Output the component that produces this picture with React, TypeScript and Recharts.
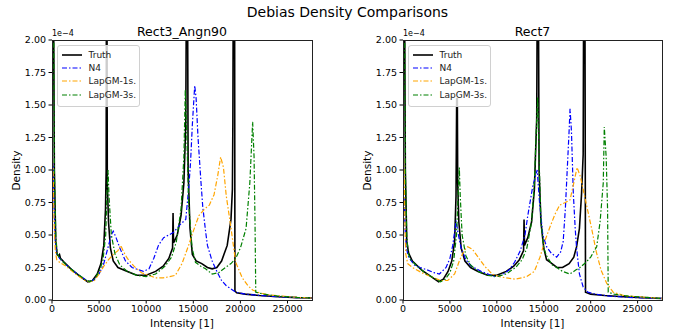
import { LineChart, Line, XAxis, YAxis } from 'recharts'

document.body.style.margin = '0'

type Pt = [number, number]

const xTicks = [0, 5000, 10000, 15000, 20000, 25000]
const yTicks = [0, 0.25, 0.5, 0.75, 1, 1.25, 1.5, 1.75, 2]
const xMax = 27600

const seriesNames = ['Truth', 'N4', 'LapGM-1s.', 'LapGM-3s.']
const seriesColors = ['#000000', '#0000ff', '#ffa500', '#008000']

// density values in units of 1e-4, [intensity, density]
const leftTruth: Pt[] = [
  [0, 0], [40, 2.6], [150, 2.6], [250, 1.0], [400, 0.45], [550, 0.35], [700, 0.34], [800, 0.35], [900, 0.32],
  [1300, 0.29], [2000, 0.24], [3000, 0.18], [3800, 0.14], [4300, 0.15], [4800, 0.2], [5200, 0.28], [5500, 0.42],
  [5680, 0.7], [5750, 1.0], [5780, 2.6], [5830, 2.6], [5870, 0.9], [6000, 0.6], [6200, 0.4], [6500, 0.3],
  [7000, 0.25], [8000, 0.22], [9000, 0.19], [10000, 0.19], [11000, 0.22], [11800, 0.26], [12400, 0.32],
  [12800, 0.4], [12850, 0.67], [12900, 0.44], [13300, 0.5], [13700, 0.65], [14000, 0.9], [14200, 1.35],
  [14280, 2.6], [14380, 2.6], [14450, 1.0], [14650, 0.55], [14900, 0.35], [15300, 0.3], [15900, 0.28],
  [16500, 0.25], [17000, 0.24], [17500, 0.25], [18000, 0.3], [18600, 0.42], [19000, 0.62], [19150, 0.85],
  [19200, 1.37], [19250, 2.6], [19380, 2.6], [19420, 0.07], [19600, 0.055], [20500, 0.045], [22000, 0.035],
  [24000, 0.025], [26000, 0.018], [27600, 0.015],
]
const leftN4: Pt[] = [
  [0, 0], [30, 1.05], [120, 1.05], [220, 0.7], [350, 0.45], [500, 0.36], [800, 0.32], [1500, 0.27], [2500, 0.21],
  [3500, 0.16], [4000, 0.14], [4500, 0.16], [5000, 0.2], [5500, 0.28], [6000, 0.42], [6300, 0.5], [6500, 0.53],
  [6800, 0.48], [7200, 0.4], [7800, 0.3], [8500, 0.25], [9700, 0.22], [10300, 0.24], [10800, 0.32], [11300, 0.42],
  [11850, 0.48], [12400, 0.5], [12900, 0.52], [13600, 0.58], [14200, 0.62], [14500, 0.85], [14700, 1.05],
  [14900, 1.35], [15150, 1.65], [15300, 1.55], [15500, 1.25], [15800, 0.92], [16000, 0.72], [16300, 0.53],
  [16500, 0.42], [17000, 0.3], [17500, 0.22], [18000, 0.15], [18500, 0.11], [19500, 0.06], [20500, 0.045],
  [22000, 0.035], [24000, 0.025], [26000, 0.018], [27600, 0.015],
]
const leftLap1: Pt[] = [
  [0, 0], [30, 1.1], [120, 1.0], [220, 0.6], [350, 0.38], [500, 0.31], [800, 0.29], [1500, 0.26], [2500, 0.2],
  [3500, 0.15], [4000, 0.14], [4500, 0.15], [5000, 0.2], [5500, 0.26], [6000, 0.31], [6500, 0.35], [7000, 0.38],
  [7300, 0.42], [7600, 0.37], [8000, 0.32], [8700, 0.26], [9500, 0.21], [10300, 0.19], [11000, 0.17],
  [11800, 0.17], [12500, 0.18], [13100, 0.19], [13800, 0.28], [14500, 0.42], [15000, 0.53], [15600, 0.65],
  [16200, 0.7], [16700, 0.73], [17200, 0.81], [17600, 0.96], [17900, 1.1], [18200, 1.02], [18500, 0.8],
  [18950, 0.58], [19500, 0.29], [20200, 0.17], [20800, 0.11], [21300, 0.077], [22000, 0.055], [23000, 0.04],
  [24500, 0.03], [26000, 0.02], [27600, 0.015],
]
const leftLap3: Pt[] = [
  [0, 0], [30, 2.6], [150, 2.6], [250, 1.0], [400, 0.5], [550, 0.36], [800, 0.32], [1500, 0.27], [2500, 0.21],
  [3500, 0.16], [4000, 0.14], [4500, 0.16], [5000, 0.22], [5400, 0.3], [5700, 0.5], [5850, 0.85], [5950, 1.0],
  [6050, 0.8], [6300, 0.5], [6700, 0.35], [7200, 0.27], [8000, 0.22], [9000, 0.19], [10000, 0.18], [11000, 0.2],
  [12000, 0.26], [12700, 0.33], [13200, 0.45], [13700, 0.7], [14000, 1.1], [14150, 1.62], [14300, 1.3],
  [14500, 0.75], [14870, 0.4], [15230, 0.29], [15800, 0.26], [16300, 0.24], [17000, 0.2], [17700, 0.21],
  [18400, 0.25], [19000, 0.28], [19500, 0.32], [20000, 0.4], [20600, 0.55], [21000, 0.9], [21300, 1.37],
  [21450, 1.1], [21550, 0.6], [21630, 0.06], [22500, 0.045], [24000, 0.03], [26000, 0.02], [27600, 0.015],
]

const rightTruth: Pt[] = [
  [0, 0], [40, 2.6], [150, 2.6], [250, 1.0], [400, 0.45], [600, 0.36], [1000, 0.3], [2000, 0.23], [3000, 0.18],
  [3800, 0.14], [4300, 0.16], [4800, 0.22], [5200, 0.3], [5500, 0.45], [5650, 0.8], [5720, 1.55], [5790, 1.55],
  [5830, 0.9], [5950, 0.6], [6200, 0.4], [6600, 0.3], [7200, 0.25], [8000, 0.22], [9000, 0.19], [10000, 0.19],
  [11000, 0.22], [11800, 0.26], [12400, 0.31], [12850, 0.38], [12900, 0.62], [12950, 0.42], [13300, 0.48],
  [13700, 0.6], [14000, 0.85], [14250, 1.4], [14320, 2.6], [14420, 2.6], [14500, 1.0], [14700, 0.6],
  [15000, 0.4], [15300, 0.31], [15700, 0.29], [16400, 0.25], [17000, 0.25], [17700, 0.28], [18200, 0.33],
  [18500, 0.41], [18800, 0.55], [19030, 0.82], [19200, 1.12], [19260, 2.6], [19380, 2.6], [19450, 0.06],
  [20000, 0.045], [21500, 0.035], [23500, 0.025], [25500, 0.018], [27600, 0.012],
]
const rightN4: Pt[] = [
  [0, 0], [30, 0.8], [120, 0.78], [220, 0.55], [350, 0.4], [600, 0.33], [1210, 0.27], [1800, 0.25], [2640, 0.23],
  [3300, 0.21], [3880, 0.2], [4590, 0.25], [5000, 0.32], [5300, 0.42], [5660, 0.61], [5850, 0.52], [6190, 0.4],
  [6700, 0.31], [7300, 0.26], [8320, 0.22], [9750, 0.18], [10500, 0.19], [11300, 0.23], [11890, 0.29],
  [12500, 0.38], [13000, 0.5], [13300, 0.65], [13840, 0.88], [14300, 1.0], [14550, 0.75], [14900, 0.5],
  [15300, 0.41], [15800, 0.36], [16370, 0.33], [16800, 0.37], [17070, 0.45], [17300, 0.7], [17500, 1.0],
  [17700, 1.3], [17800, 1.47], [17950, 1.3], [18150, 0.82], [18350, 0.55], [18500, 0.4], [18800, 0.2],
  [19200, 0.1], [19700, 0.06], [20500, 0.045], [22000, 0.03], [24000, 0.02], [27600, 0.012],
]
const rightLap1: Pt[] = [
  [0, 0], [30, 1.15], [120, 1.0], [200, 0.6], [300, 0.35], [500, 0.28], [1000, 0.25], [2000, 0.21], [3000, 0.18],
  [4000, 0.15], [4770, 0.15], [5500, 0.2], [6000, 0.3], [6500, 0.38], [6900, 0.41], [7400, 0.39], [8000, 0.33],
  [8700, 0.26], [9500, 0.2], [10300, 0.18], [11000, 0.17], [12000, 0.16], [13170, 0.18], [14000, 0.22],
  [14600, 0.33], [15100, 0.45], [15650, 0.56], [16200, 0.66], [16700, 0.73], [17300, 0.75], [17800, 0.77],
  [18200, 0.9], [18550, 1.02], [18900, 0.95], [19500, 0.75], [20100, 0.55], [20600, 0.37], [21100, 0.23],
  [21700, 0.13], [22400, 0.06], [23500, 0.035], [25000, 0.025], [27600, 0.012],
]
const rightLap3: Pt[] = [
  [0, 0], [30, 2.6], [150, 2.6], [250, 1.0], [400, 0.5], [550, 0.36], [800, 0.31], [1500, 0.26], [2500, 0.2],
  [3500, 0.16], [4000, 0.14], [4500, 0.16], [5000, 0.21], [5400, 0.3], [5700, 0.5], [5870, 0.8], [6000, 1.02],
  [6100, 0.8], [6300, 0.5], [6700, 0.34], [7200, 0.27], [8000, 0.22], [9000, 0.19], [10000, 0.18], [11000, 0.2],
  [12000, 0.25], [12700, 0.31], [13200, 0.4], [13700, 0.6], [14000, 0.9], [14200, 1.3], [14350, 1.56],
  [14500, 1.1], [14700, 0.6], [15000, 0.4], [15300, 0.34], [15900, 0.27], [16400, 0.25], [17000, 0.22],
  [17790, 0.2], [18400, 0.23], [18860, 0.25], [19500, 0.29], [20000, 0.33], [20640, 0.41], [21000, 0.6],
  [21340, 0.9], [21450, 1.33], [21650, 1.1], [21800, 0.7], [21870, 0.06], [22500, 0.045], [24000, 0.03],
  [26000, 0.02], [27600, 0.012],
]

const FONT = '"DejaVu Sans", sans-serif'
const DASH = '5 2 1.5 2'

type PanelProps = {
  title: string
  x: number
  yWidth: number
  right: number
  series: Pt[][]
}

function Panel({ title, x, yWidth, right, series }: PanelProps) {
  const plotLeft = x + yWidth
  const plotWidth = 341 - yWidth - right
  const center = plotLeft + plotWidth / 2
  return (
    <>
      <div style={{ position: 'absolute', left: x, top: 0 }}>
        <LineChart width={341} height={335} margin={{ top: 40, right, bottom: 0, left: 0 }}>
          <XAxis
            type="number"
            dataKey="x"
            domain={[0, xMax]}
            ticks={xTicks}
            allowDataOverflow
            height={35}
            axisLine={false}
            tickSize={3.5}
            tickMargin={2}
            tickLine={{ stroke: '#000' }}
            tick={{ fontSize: 9.5, fill: '#000', fontFamily: FONT }}
          />
          <YAxis
            type="number"
            domain={[0, 2]}
            ticks={yTicks}
            allowDataOverflow
            width={yWidth}
            axisLine={false}
            tickSize={3.5}
            tickMargin={2.5}
            tickLine={{ stroke: '#000' }}
            tick={{ fontSize: 9.5, fill: '#000', fontFamily: FONT }}
            tickFormatter={(v: number) => v.toFixed(2)}
          />
          {series.map((pts, i) => (
            <Line
              key={seriesNames[i]}
              name={seriesNames[i]}
              data={pts.map(([px, py]) => ({ x: px, y: py }))}
              dataKey="y"
              type="linear"
              stroke={seriesColors[i]}
              strokeWidth={i === 0 ? 1.6 : 1.2}
              strokeDasharray={i === 0 ? undefined : DASH}
              dot={false}
              isAnimationActive={false}
            />
          ))}
        </LineChart>
      </div>
      {/* axes frame */}
      <div
        style={{
          position: 'absolute', left: plotLeft, top: 40, width: plotWidth + 1, height: 261,
          border: '1px solid #222', boxSizing: 'border-box', pointerEvents: 'none',
        }}
      />
      <div style={{ position: 'absolute', left: plotLeft, top: 29, fontSize: 8, fontFamily: FONT, lineHeight: '10px' }}>
        1e−4
      </div>
      <div
        style={{
          position: 'absolute', left: center - 100, width: 200, top: 24, textAlign: 'center',
          fontSize: 12.5, fontFamily: FONT, lineHeight: '15px',
        }}
      >
        {title}
      </div>
      <div
        style={{
          position: 'absolute', left: center - 60, width: 120, top: 317, textAlign: 'center',
          fontSize: 10.5, fontFamily: FONT, lineHeight: '13px',
        }}
      >
        Intensity [1]
      </div>
      <div
        style={{
          position: 'absolute', left: plotLeft - 36 - 40, top: 164, width: 80, textAlign: 'center',
          fontSize: 10.5, fontFamily: FONT, lineHeight: '13px', transform: 'rotate(-90deg)',
        }}
      >
        Density
      </div>
      {/* legend */}
      <div
        style={{
          position: 'absolute', left: plotLeft + 4.5, top: 45, width: 83, height: 62,
          border: '1px solid #d0d0d0', borderRadius: 3, background: 'rgba(255,255,255,0.8)',
          boxSizing: 'border-box', fontFamily: FONT, fontSize: 9,
        }}
      >
        {seriesNames.map((name, i) => (
          <div key={name} style={{ position: 'absolute', left: 3, top: 2 + i * 13.4, height: 13, display: 'flex', alignItems: 'center' }}>
            <svg width={22} height={6} style={{ marginRight: 6 }}>
              <line
                x1={1} y1={3} x2={21} y2={3}
                stroke={seriesColors[i]}
                strokeWidth={i === 0 ? 1.6 : 1.2}
                strokeDasharray={i === 0 ? undefined : DASH}
              />
            </svg>
            <span style={{ color: '#222' }}>{name}</span>
          </div>
        ))}
      </div>
    </>
  )
}

export default function App() {
  return (
    <div style={{ position: 'relative', width: 683, height: 335, background: '#fff', overflow: 'hidden' }}>
      <div
        style={{
          position: 'absolute', left: 0, width: 683, top: 4, textAlign: 'center',
          fontSize: 14, fontFamily: FONT, lineHeight: '17px', paddingLeft: 12, boxSizing: 'border-box',
        }}
      >
        Debias Density Comparisons
      </div>
      <Panel title="Rect3_Angn90" x={0} yWidth={52} right={29} series={[leftTruth, leftN4, leftLap1, leftLap3]} />
      <Panel title="Rect7" x={341} yWidth={62} right={20} series={[rightTruth, rightN4, rightLap1, rightLap3]} />
    </div>
  )
}
